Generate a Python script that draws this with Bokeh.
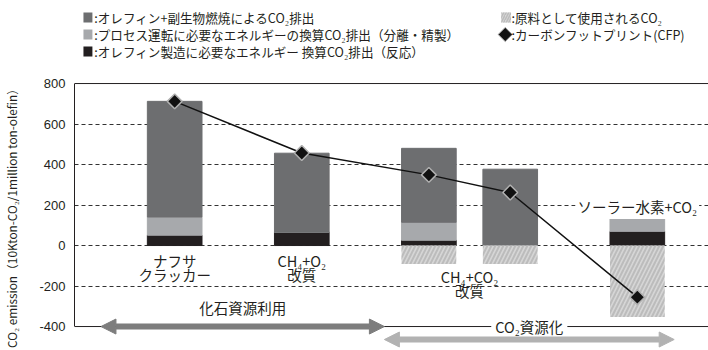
import numpy as np
from bokeh.plotting import figure
from bokeh.models import Range1d, FixedTicker, Span, Arrow, NormalHead, ColumnDataSource
from bokeh.layouts import column
from bokeh.core.properties import value
from bokeh.embed import file_html
from bokeh.resources import INLINE

# ---------------- data ----------------
x_pos = [1.0, 2.0, 3.0, 3.64, 4.64]             # category positions
reaction = [51, 66, 26, 0, 70]                  # black: energy for olefin production (reaction)
separation = [90, 0, 89, 0, 65]                 # light gray: process energy (separation/refining)
combustion = [571, 390, 365, 377, 0]            # dark gray: olefin + by-product combustion
feedstock = [0, 0, -91, -91, -353]              # hatched: CO2 used as feedstock
cfp = [712, 457, 349, 262, -255]                # carbon footprint (CFP)

cat_line1 = ["ナフサ", "CH₄+O₂", "CH₄+CO₂"]
cat_line2 = ["クラッカー", "改質", "改質"]
cat_members = [[0], [1], [2, 3]]
solar_label = "ソーラー水素+CO₂"
solar_member = 4

y_ticks = [-400, -200, 0, 200, 400, 600, 800]
y_tick_labels = ["-400", "-200", "0", "200", "400", "600", "800"]
grid_ticks = [-200, 0, 200, 400, 600]
y_label = "CO₂ emission（10Kton-CO₂/1million ton-olefin）"

group_labels = ["化石資源利用", "CO₂資源化"]
group_spans = [(0.42, 2.65), (2.65, 4.93)]

legend_left = [":オレフィン+副生物燃焼によるCO₂排出",
               ":プロセス運転に必要なエネルギーの換算CO₂排出（分離・精製）",
               ":オレフィン製造に必要なエネルギー 換算CO₂排出（反応）"]
legend_right = [":原料として使用されるCO₂", ":カーボンフットプリント(CFP)"]

# ---------------- styles ----------------
C_COMB = "#6d6e70"
C_PROC = "#a7a9ac"
C_REACT = "#231f20"
C_HATCH_BG = "#d6d6d6"
C_HATCH = "#bcbcbc"
C_TEXT = "#231f20"
JP = value("Noto Sans CJK JP")
FS = "14.5px"
FS_LEG = "12.6px"

# ---------------- legend figure ----------------
leg = figure(width=708, height=70, x_range=Range1d(0, 708), y_range=Range1d(70, 0),
             toolbar_location=None, output_backend="svg", min_border=0,
             x_axis_location=None, y_axis_location=None)
leg.outline_line_color = None
leg.xgrid.visible = False
leg.ygrid.visible = False
rows = [17, 34, 51]
leg.rect(x=15, y=rows, width=10, height=10, fill_color=[C_COMB, C_PROC, C_REACT], line_color=None)
leg.text(x=22, y=rows, text=legend_left, text_baseline="middle", text_font=JP,
         text_font_size=FS_LEG, text_color=C_TEXT)
leg.rect(x=[482], y=[rows[0]], width=11, height=10, fill_color=C_HATCH_BG, line_color=None,
         hatch_pattern="/", hatch_color=C_HATCH, hatch_scale=5, hatch_weight=1.5)
leg.scatter(x=[481], y=[rows[1]], marker="square", angle=np.pi / 4, size=10,
            fill_color="#111111", line_color="#aaaaaa", line_width=1)
leg.text(x=488, y=rows[:2], text=legend_right, text_baseline="middle", text_font=JP,
         text_font_size=FS_LEG, text_color=C_TEXT)

# ---------------- main figure ----------------
p = figure(width=708, height=280, x_range=Range1d(0.2118, 5.2), y_range=Range1d(-518.3, 815),
           toolbar_location=None, output_backend="svg",
           min_border_left=72, min_border_right=0, min_border_top=10, min_border_bottom=0,
           x_axis_location=None)
p.outline_line_color = None
p.xgrid.visible = False
p.ygrid.ticker = FixedTicker(ticks=grid_ticks)
p.ygrid.grid_line_color = "#333333"
p.ygrid.grid_line_dash = "4 3"
p.ygrid.grid_line_width = 1

ax = p.yaxis[0]
ax.ticker = FixedTicker(ticks=y_ticks)
ax.bounds = (-400, 800)
ax.major_label_overrides = {t: l for t, l in zip(y_ticks, y_tick_labels)}
ax.major_tick_line_color = None
ax.minor_tick_line_color = None
ax.major_tick_out = 0
ax.major_tick_in = 0
ax.axis_line_color = C_TEXT
ax.major_label_text_font = "Liberation Sans"
ax.major_label_text_font_size = "13px"
ax.major_label_text_color = C_TEXT
ax.major_label_standoff = 9
ax.axis_label = y_label
ax.axis_label_text_font = "Noto Sans CJK JP"
ax.axis_label_text_font_style = "normal"
ax.axis_label_text_font_size = "11.8px"
ax.axis_label_text_color = C_TEXT
ax.axis_label_standoff = 16

p.add_layout(Span(location=800, dimension="width", line_color=C_TEXT, line_width=1, level="underlay"))
p.add_layout(Span(location=-400, dimension="width", line_color=C_TEXT, line_width=1, level="underlay"))

src = ColumnDataSource(dict(x=x_pos, reaction=reaction, separation=separation, combustion=combustion))
p.vbar_stack(["reaction", "separation", "combustion"], x="x", width=0.43,
             color=[C_REACT, C_PROC, C_COMB], source=src)
p.vbar(x=x_pos, top=0, bottom=feedstock, width=0.43, fill_color=C_HATCH_BG, line_color=None,
       hatch_pattern="/", hatch_color=C_HATCH, hatch_scale=8, hatch_weight=2)

p.line(x_pos, cfp, line_color="#111111", line_width=1.5)
p.scatter(x_pos, cfp, marker="square", angle=np.pi / 4, size=10.5,
          fill_color="#111111", line_color="#b0b0b0", line_width=1.5)

cat_x = [float(np.mean([x_pos[i] for i in m])) for m in cat_members]
line1_y = [-72, -72, -153]
line2_y = [-141, -141, -222]
for txts, ys in ((cat_line1, line1_y), (cat_line2, line2_y)):
    p.text(x=cat_x, y=ys, text=txts, text_align="center", text_baseline="middle",
           text_font=JP, text_font_size=FS, text_color=C_TEXT)
p.text(x=[x_pos[solar_member]], y=[193], text=[solar_label], text_align="center",
       text_baseline="middle", text_font=JP, text_font_size=FS, text_color=C_TEXT,
       background_fill_color="white", padding=2)

arrow_colors = ["#7d7d7d", "#b2b2b2"]
arrow_y = [-400, -464]
for (a, b), c, yy in zip(group_spans, arrow_colors, arrow_y):
    p.add_layout(Arrow(x_start=a, x_end=b, y_start=yy, y_end=yy, line_color=c, line_width=6,
                       start=NormalHead(size=15, fill_color=c, line_color=c),
                       end=NormalHead(size=15, fill_color=c, line_color=c)))

p.text(x=[float(np.mean(group_spans[0]))], y=[-306], text=[group_labels[0]], text_align="center",
       text_baseline="middle", text_font=JP, text_font_size=FS, text_color=C_TEXT)
p.text(x=[float(np.mean(group_spans[1]))], y=[-398], text=[group_labels[1]], text_align="center",
       text_baseline="middle", text_font=JP, text_font_size=FS, text_color=C_TEXT,
       background_fill_color="white", padding=4)

layout = column(leg, p, spacing=0)
open("out.html", "w").write(file_html(layout, INLINE))
